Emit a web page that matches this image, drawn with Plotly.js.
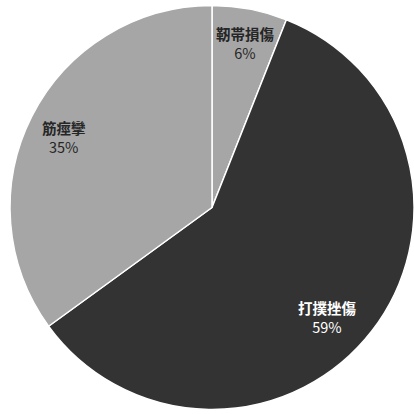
<!DOCTYPE html>
<html><head><meta charset="utf-8">
<script src="https://cdn.plot.ly/plotly-3.0.1.min.js"></script>
<style>html,body{margin:0;padding:0;background:#fff;}</style>
</head><body><div id="chart" style="width:414px;height:414px;"></div>
<script>
const labels = ["靭帯損傷", "打撲挫傷", "筋痙攣"];
const values = [6, 59, 35];
const colors = ["#a6a6a6", "#333333", "#a6a6a6"];
const textColors = ["#262626", "#ffffff", "#262626"];
// label anchor positions (paper coords) for each slice
const labelX = [0.582, 0.787, 0.134];
const labelY = [0.907, 0.230, 0.674];

const annotations = labels.map((l, i) => ({
  text: "<b>" + l + "</b><br>" + values[i] + "%",
  x: labelX[i], y: labelY[i], xref: "paper", yref: "paper",
  showarrow: false, xanchor: "center", yanchor: "middle",
  font: {family: "Noto Sans CJK JP, sans-serif", size: 14.5, color: textColors[i]}
}));

Plotly.newPlot("chart", [{
  type: "pie",
  labels: labels,
  values: values,
  sort: false,
  direction: "clockwise",
  rotation: 0,
  marker: {colors: colors, line: {color: "#ffffff", width: 1.5}},
  textinfo: "none",
  hoverinfo: "none"
}], {
  width: 414, height: 414,
  margin: {l: 10, r: 0, t: 5, b: 4},
  showlegend: false,
  paper_bgcolor: "#ffffff",
  annotations: annotations
}, {staticPlot: true});
</script></body></html>
